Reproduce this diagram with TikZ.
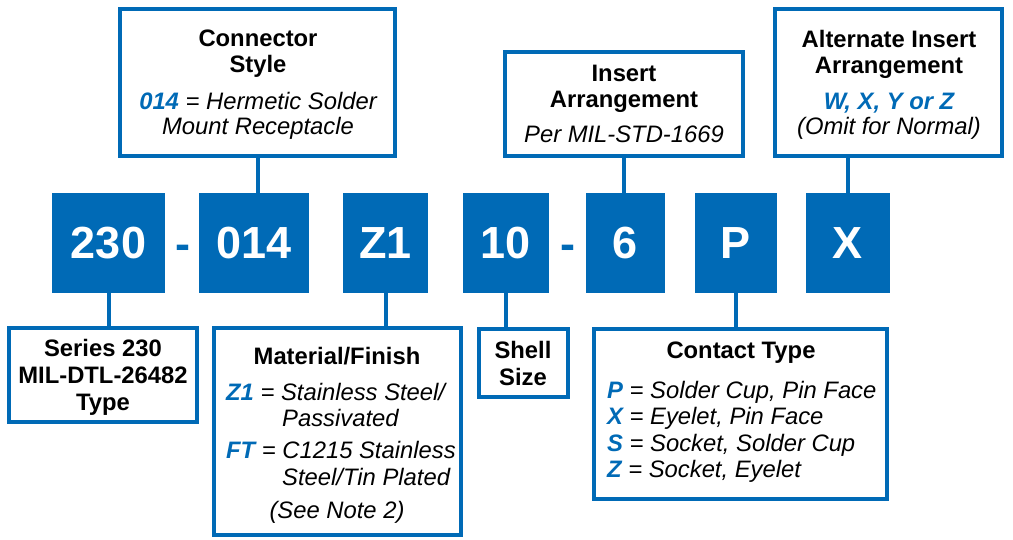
\documentclass[tikz,border=0pt]{standalone}
\usepackage{fontspec}
\setmainfont{Liberation Sans}
\definecolor{cblue}{RGB}{0,106,182}
\tikzset{
  frame/.style={draw=cblue, line width=4pt, fill=white, inner sep=0pt},
  code/.style={fill=cblue, inner sep=0pt, text=white, minimum height=100pt, font=\bfseries\fontsize{45}{45}\selectfont},
  dashsym/.style={inner sep=0pt, anchor=base, text=cblue, font=\bfseries\fontsize{45}{45}\selectfont},
  link/.style={draw=cblue, line width=4pt},
  hd/.style={inner sep=0pt, anchor=base, font=\bfseries\fontsize{23.8}{26}\selectfont},
  it/.style={inner sep=0pt, anchor=base, font=\itshape\fontsize{23.8}{26}\selectfont},
  itw/.style={it, anchor=base west},
}
\newcommand{\cd}[1]{\textcolor{cblue}{\bfseries\itshape #1}}
\begin{document}
\begin{tikzpicture}[x=1pt,y=-1pt]
\useasboundingbox (0,0) rectangle (1013,540);

% code boxes
\node[code, minimum width=113pt] (b230) at (108.5,243) {230};
\node[code, minimum width=110pt] (b014) at (254,243) {014};
\node[code, minimum width=85pt] (bZ1) at (385.5,243) {Z1};
\node[code, minimum width=86pt] (b10) at (506,243) {10};
\node[code, minimum width=79pt] (b6) at (625.5,243) {6};
\node[code, minimum width=82pt] (bP) at (736,243) {P};
\node[code, minimum width=84pt] (bX) at (848,243) {X};
\node[dashsym] (d1) at (183,260) {-};
\node[dashsym] (d2) at (568,260) {-};

% description frames
\node[frame, minimum width=275pt, minimum height=146.4pt] (cs) at (257.8,82.5) {};
\node[frame, minimum width=238.3pt, minimum height=104.3pt] (ia) at (623.9,104.2) {};
\node[frame, minimum width=227.6pt, minimum height=146.7pt] (aia) at (888.5,82.7) {};
\node[frame, minimum width=188pt, minimum height=94pt] (s230) at (103.3,375) {};
\node[frame, minimum width=247.6pt, minimum height=207.3pt] (mf) at (337.5,431.7) {};
\node[frame, minimum width=89.3pt, minimum height=68.6pt] (ss) at (523.3,363) {};
\node[frame, minimum width=293.3pt, minimum height=169.7pt] (ct) at (740.7,414.2) {};

% connectors
\draw[link] (cs.south) -- (cs.south |- b014.north);
\draw[link] (ia.south) -- (ia.south |- b6.north);
\draw[link] (bX.north) -- (bX.north |- aia.south);
\draw[link] (b230.south) -- (b230.south |- s230.north);
\draw[link] (bZ1.south) -- (bZ1.south |- mf.north);
\draw[link] (b10.south) -- (b10.south |- ss.north);
\draw[link] (bP.south) -- (bP.south |- ct.north);

% Connector Style
\node[hd] (cs1) at (258,46.7) {Connector};
\node[hd] (cs2) at (258,72.7) {Style};
\node[it] (cs3) at (258,110) {\cd{014} = Hermetic Solder};
\node[it] (cs4) at (258,135) {Mount Receptacle};

% Insert Arrangement
\node[hd] (ia1) at (624,81.7) {Insert};
\node[hd] (ia2) at (624,108) {Arrangement};
\node[it] (ia3) at (624,143) {Per MIL-STD-1669};

% Alternate Insert Arrangement
\node[hd] (aia1) at (889,47.3) {Alternate Insert};
\node[hd] (aia2) at (889,73.3) {Arrangement};
\node[it] (aia3) at (889,110) {\cd{W, X, Y or Z}};
\node[it] (aia4) at (889,135) {(Omit for Normal)};

% Series 230
\node[hd] (s1) at (103,356.7) {Series 230};
\node[hd] (s2) at (103,383.3) {MIL-DTL-26482};
\node[hd] (s3) at (103,410) {Type};

% Material/Finish
\node[hd] (mf1) at (337,364) {Material/Finish};
\node[itw] (mf2) at (226,400) {\cd{Z1} = Stainless Steel/};
\node[itw] (mf3) at (282,426.7) {Passivated};
\node[itw] (mf4) at (226,458.3) {\cd{FT} = C1215 Stainless};
\node[itw] (mf5) at (282,485) {Steel/Tin Plated};
\node[it] (mf6) at (337,518) {(See Note 2)};

% Shell Size
\node[hd] (ss1) at (523,358.3) {Shell};
\node[hd] (ss2) at (523,385) {Size};

% Contact Type
\node[hd] (ct1) at (741,359) {Contact Type};
\node[itw] (ct2) at (607,398.3) {\cd{P} = Solder Cup, Pin Face};
\node[itw] (ct3) at (607,424.3) {\cd{X} = Eyelet, Pin Face};
\node[itw] (ct4) at (607,451) {\cd{S} = Socket, Solder Cup};
\node[itw] (ct5) at (607,477.7) {\cd{Z} = Socket, Eyelet};
\end{tikzpicture}
\end{document}
